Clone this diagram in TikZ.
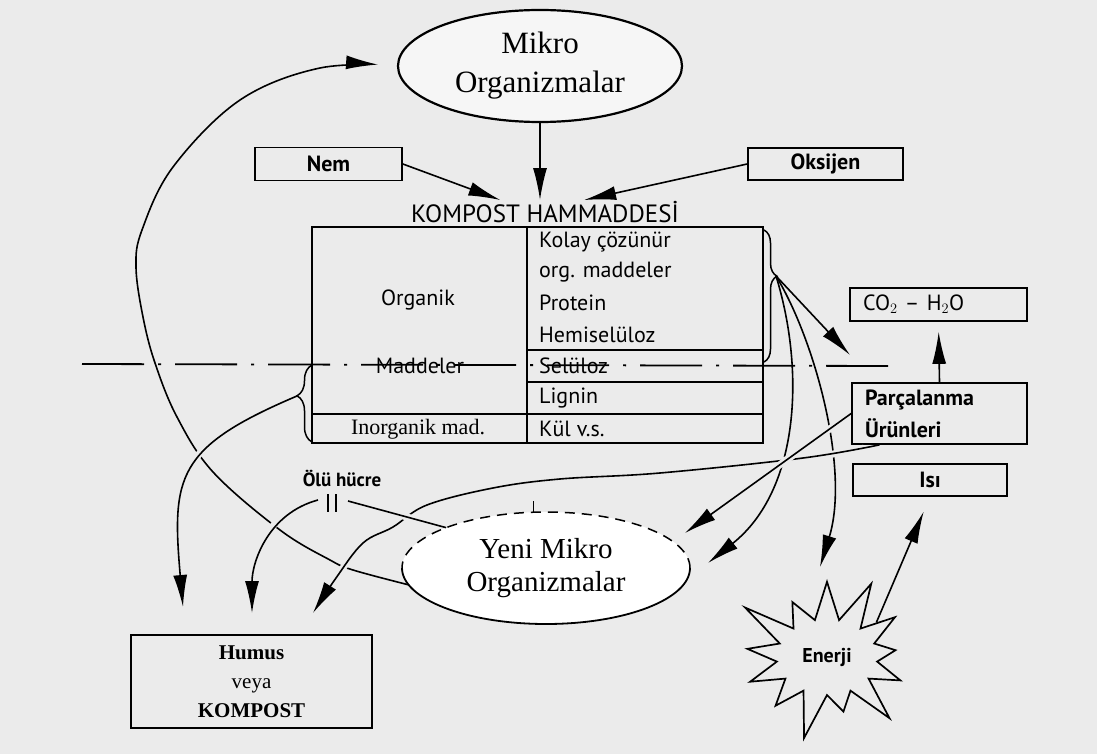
\documentclass[tikz,border=0pt]{standalone}
\usepackage{fontspec}
\setmainfont{Liberation Serif}
\newfontfamily\optfont{PT Sans}
\usepackage{tikz}
\usetikzlibrary{arrows.meta, positioning, shapes.geometric, shapes.symbols, decorations.pathreplacing}
\definecolor{paper}{HTML}{EBEBEB}

\begin{document}
\begin{tikzpicture}[
    x=1pt, y=1pt,
    box/.style={draw, line width=1.7pt, inner sep=0pt, font=\optfont\bfseries\fontsize{22}{26}\selectfont},
    oval/.style={ellipse, inner sep=0pt, outer sep=0pt, align=center},
    cell/.style={anchor=west, inner sep=0pt, font=\optfont\fontsize{22}{26}\selectfont},
    annot/.style={inner sep=0pt, font=\optfont\bfseries\fontsize{19}{22}\selectfont},
    arr/.style={-{Latex[length=32pt, width=14pt]}, line width=1.6pt},
    gap/.style={preaction={draw=paper, line width=7pt, -, shorten <=16pt, shorten >=16pt}},
    lbrace/.style={decorate, decoration={brace, amplitude=15pt, aspect=0.6}, line width=1.5pt},
    rbrace/.style={decorate, decoration={brace, amplitude=13pt, aspect=0.35}, line width=1.5pt},
  ]

  % Paper
  \fill[paper] (0,0) rectangle (1097,-754);
  \useasboundingbox (0,0) rectangle (1097,-754);

  % Micro-organisms on top
  \node[oval, draw, line width=2.2pt, fill=white!55!paper, minimum width=284pt, minimum height=112pt,
        font=\fontsize{31}{39}\selectfont] (mikro) at (540,-66) {Mikro\\Organizmalar};

  % Inputs
  \node[box, minimum width=147pt, minimum height=33pt] (nem) at (328.5,-164) {Nem};
  \node[box, minimum width=155pt, minimum height=32pt] (oks) at (825.5,-164) {Oksijen};
  \node[inner sep=1pt, font=\optfont\fontsize{25}{28}\selectfont] (kh) at (545,-212) {KOMPOST HAMMADDESİ};

  % Raw material table
  \node[draw, line width=1.7pt, minimum width=451pt, minimum height=216pt, inner sep=0pt, outer sep=0pt,
        anchor=north west] (tab) at (312,-227) {};
  \draw[line width=1.5pt] (527,-227) -- (527,-443);
  \draw[line width=1.3pt] (527,-350) -- (763,-350) (527,-382) -- (763,-382) (312,-414) -- (763,-414);

  \node[cell] (kolay) at (539,-242) {Kolay çözünür};
  \node[cell] (orgm) at (539,-272) {org. maddeler};
  \node[cell] (prot) at (539,-303) {Protein};
  \node[cell] (hemi) at (539,-335) {Hemiselüloz};
  \node[cell] (selu) at (539,-366) {Selüloz};
  \node[cell] (lign) at (539,-398) {Lignin};
  \node[cell] (kul) at (539,-429) {Kül v.s.};
  \node[cell, anchor=center] (organik) at (418,-300) {Organik};
  \node[cell, anchor=center] (madde) at (420,-366) {Maddeler};
  \node[inner sep=0pt, font=\fontsize{22}{24}\selectfont] (inorg) at (418,-429) {Inorganik mad.};

  % Brackets
  \draw[lbrace] (312,-442) -- (312,-365);
  \draw[rbrace] (764,-230) -- (764,-362);
  \coordinate (ltip) at (297,-396);
  \coordinate (rtip) at (776,-276);

  % Products on the right
  \node[box, align=left, text width=151pt, inner xsep=13pt, minimum height=33pt,
        font=\optfont\fontsize{22}{24}\selectfont] (co2) at (938.5,-304.5) {CO$_2$ – H$_2$O};
  \node[box, align=left, text width=149pt, inner xsep=13pt, minimum height=61pt,
        font=\optfont\bfseries\fontsize{22}{32}\selectfont] (parc) at (939.5,-413.5) {Parçalanma\\Ürünleri};
  \node[box, minimum width=154pt, minimum height=32pt] (isi) at (930,-480) {Isı};
  \node[starburst, draw, line width=1.7pt, starburst points=13, starburst point height=52pt,
        minimum width=205pt, minimum height=180pt, inner sep=0pt,
        font=\optfont\bfseries\fontsize{20}{22}\selectfont] (enerji) at (827,-657) {Enerji};

  % New micro-organisms
  \node[oval, fill=white, minimum width=288pt, minimum height=112pt,
        font=\fontsize{29}{33}\selectfont] (yeni) at (546,-568) {Yeni Mikro\\Organizmalar};
  \draw[dash pattern=on 10pt off 7pt, line width=1.5pt] (yeni.east) arc[start angle=0, end angle=180, x radius=144pt, y radius=56pt];
  \draw[line width=1.8pt] (yeni.west) arc[start angle=180, end angle=360, x radius=144pt, y radius=56pt];
  \draw[line width=1pt] ([xshift=-13pt]yeni.north) -- ++(0,11);

  % Humus
  \node[box, minimum width=241pt, minimum height=93pt, align=center,
        font=\fontsize{21}{29}\selectfont] (humus) at (251.5,-681.5) {\textbf{Humus}\\veya\\\textbf{KOMPOST}};

  % Dead cells
  \node[annot] (oluh) at (342,-478) {Ölü hücre};
  \coordinate (olu) at (332,-503);
  \draw[line width=2.4pt] ([xshift=-4pt,yshift=9pt]olu) -- ([xshift=-4pt,yshift=-9pt]olu)
                          ([xshift=4pt,yshift=9pt]olu) -- ([xshift=4pt,yshift=-9pt]olu);

  % Arrow ends
  \coordinate (gastip) at (850,-355);
  \coordinate (entip) at (820,-567);
  \coordinate (ytip1) at (685,-533);
  \coordinate (ytip2) at (708,-563);
  \coordinate (hum1) at (183,-607);
  \coordinate (hum2) at (252,-613);
  \coordinate (hum3) at (313,-613);
  \coordinate (pstart) at ([xshift=-60pt]parc.south);
  \coordinate (dl) at (82,-364);
  \coordinate (dr) at (888,-366);

  % Arrows
  \draw[arr, shorten >=20pt] plot[smooth, tension=0.6] coordinates {(yeni.187) (353,-570) (330,-560) (280,-530)
        (213,-472) (177,-417) (155,-363) (143,-317) (136,-267) (142,-230) (173,-167) (240,-100) (320,-68) (mikro.west)};
  \draw[arr, gap] (ltip) to[out=203, in=95, looseness=1.4] (hum1);
  \draw[arr] (rtip) .. controls (805,-370) and (800,-490) .. (ytip2);
  \draw[arr] (rtip) .. controls (815,-340) and (850,-470) .. (entip);
  \draw[arr, gap] ([xshift=-14pt,yshift=3pt]olu) to[out=195, in=90] (hum2);
  \draw[arr, gap] plot[smooth, tension=0.6] coordinates {(pstart) (803,-458) (660,-473) (560,-479) (493,-488)
        (427,-505) (393,-527) (363,-543) (336,-578) (hum3)};
  \draw[line width=1.6pt, gap] (yeni.158) -- ([xshift=16pt,yshift=2pt]olu);
  \draw[arr, gap] (parc.west) -- (ytip1);
  \draw[arr] (rtip) -- (gastip);
  \draw[arr, shorten >=10pt] (parc.north) -- (co2.south);
  \draw[arr, shorten >=16pt] (enerji.35) -- (isi.south);
  \draw[arr] (nem.east) -- (kh.165);
  \draw[arr] (mikro.south) -- (mikro.south |- kh.north);
  \draw[arr] (oks.west) -- (kh.17);

  % Dash-dot cut line
  \draw[line width=1.8pt, dash pattern=on 62pt off 14pt on 3pt off 14pt] (dl) -- (dr);

\end{tikzpicture}
\end{document}
